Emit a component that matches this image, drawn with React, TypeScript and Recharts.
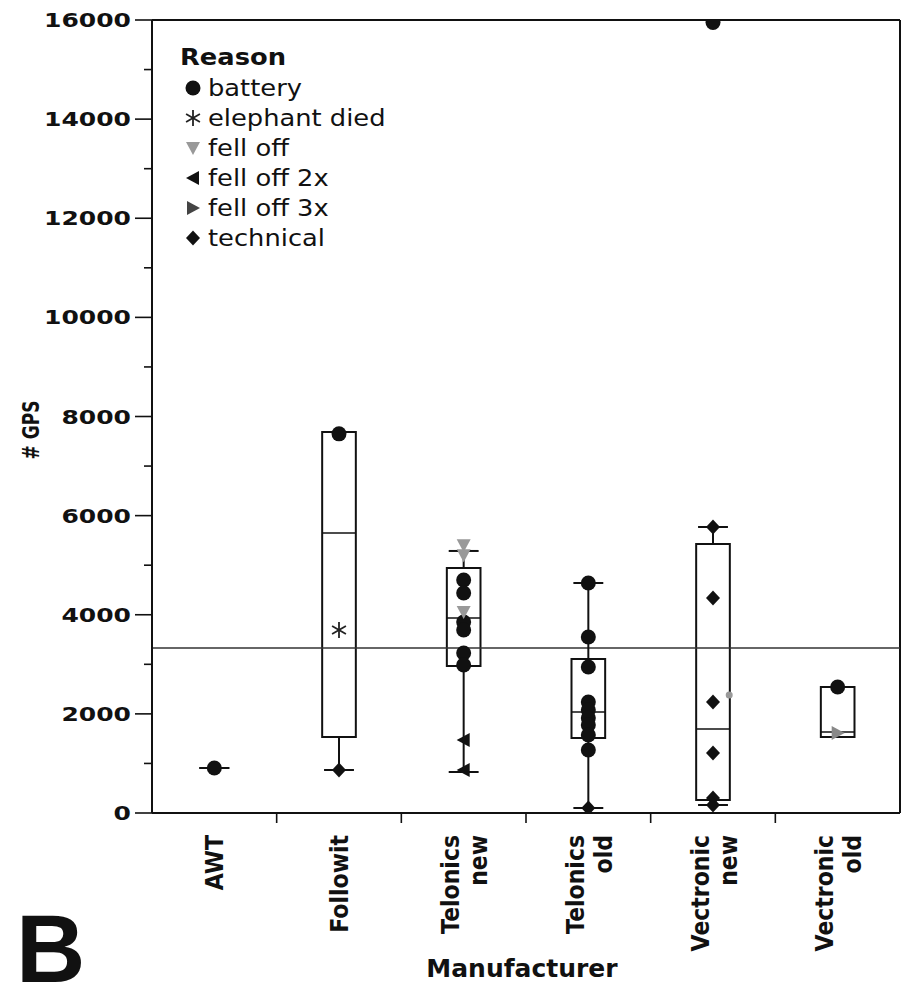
import React from 'react'
import { ComposedChart, XAxis, YAxis, Scatter, ReferenceArea, ReferenceLine } from 'recharts'

// categories (x positions 0..5)
const categories = ['AWT', 'Followit', 'Telonics new', 'Telonics old', 'Vectronic new', 'Vectronic old']

// box plot summaries per category (null = not drawn)
const boxQ1 = [null, 1533, 2966, 1513, 262, 1533]
const boxMedian = [null, 5650, 3935, 2038, 1695, 1634]
const boxQ3 = [null, 7688, 4943, 3107, 5428, 2542]
const whiskerLow = [908, 868, 827, 101, 161, null]
const whiskerHigh = [908, 7688, 5287, 4641, 5771, null]
const grandMean = 3329

// points per reason: [category index, # GPS]
const battery: [number, number][] = [
  [0, 908], [1, 7650],
  [2, 4701], [2, 4439], [2, 3854], [2, 3693], [2, 3228], [2, 2986],
  [3, 4641], [3, 3551], [3, 2946], [3, 2240], [3, 2078], [3, 1917], [3, 1776], [3, 1574], [3, 1271],
  [4, 15950], [5, 2542],
]
const elephantDied: [number, number][] = [[1, 3692]]
const fellOff: [number, number][] = [[2, 5400], [2, 5200], [2, 4056]]
const fellOff2x: [number, number][] = [[2, 1473], [2, 868]]
const fellOff3x: [number, number][] = [[5, 1614]]
const technical: [number, number][] = [[1, 868], [3, 101], [4, 5771], [4, 4338], [4, 2240], [4, 1211], [4, 303], [4, 161]]
const other: [number, number][] = [[4.13, 2381]]

const yTicks = [0, 1000, 2000, 3000, 4000, 5000, 6000, 7000, 8000, 9000, 10000, 11000, 12000, 13000, 14000, 15000, 16000]
const xTicks = [0, 0.5, 1, 1.5, 2, 2.5, 3, 3.5, 4, 4.5, 5]

const toPoints = (arr: [number, number][]) => arr.map(([x, y]) => ({ x, y }))

const INK = '#111'
const FONT = 'DejaVu Sans, Verdana, sans-serif'
const BOX_HALF = 0.135
const CAP_HALF = 0.12

function BatteryShape({ cx, cy }: any) {
  return <circle cx={cx} cy={cy} r={7.5} fill={INK} />
}
function AsteriskShape({ cx, cy }: any) {
  const r = 8
  const dx = r * Math.cos(Math.PI / 6)
  const dy = r * Math.sin(Math.PI / 6)
  return (
    <g stroke="#222" strokeWidth={1.8}>
      <line x1={cx} y1={cy - r} x2={cx} y2={cy + r} />
      <line x1={cx - dx} y1={cy - dy} x2={cx + dx} y2={cy + dy} />
      <line x1={cx - dx} y1={cy + dy} x2={cx + dx} y2={cy - dy} />
    </g>
  )
}
function DownTriShape({ cx, cy }: any) {
  return <path d={`M${cx - 7},${cy - 6} L${cx + 7},${cy - 6} L${cx},${cy + 7} Z`} fill="#999" />
}
function LeftTriShape({ cx, cy }: any) {
  return <path d={`M${cx + 6},${cy - 7} L${cx + 6},${cy + 7} L${cx - 7},${cy} Z`} fill={INK} />
}
function RightTriShape({ cx, cy, color }: any) {
  return <path d={`M${cx - 6},${cy - 7} L${cx - 6},${cy + 7} L${cx + 7},${cy} Z`} fill={color ?? '#777'} />
}
function DiamondShape({ cx, cy }: any) {
  return <path d={`M${cx},${cy - 7.5} L${cx + 7},${cy} L${cx},${cy + 7.5} L${cx - 7},${cy} Z`} fill={INK} />
}
function SmallDotShape({ cx, cy }: any) {
  return <circle cx={cx} cy={cy} r={3.5} fill="#999" />
}

function YTick({ x, y, payload }: any) {
  const v = payload.value
  const major = v % 2000 === 0
  return (
    <g>
      <line x1={x - (major ? 17 : 8)} x2={x} y1={y} y2={y} stroke={INK} strokeWidth={1.6} />
      {major && (
        <text
          transform={`translate(${x - 21},${y}) scale(1.25,1)`}
          textAnchor="end"
          dominantBaseline="central"
          fontFamily={FONT}
          fontWeight="bold"
          fontSize={20}
          fill={INK}
        >
          {v}
        </text>
      )}
    </g>
  )
}

function XTick({ x, y, payload }: any) {
  const v = payload.value
  if (!Number.isInteger(v)) {
    return <line x1={x} x2={x} y1={y} y2={y + 10} stroke={INK} strokeWidth={1.6} />
  }
  const lines = categories[v].split(' ')
  const offs = lines.length === 1 ? [0] : [-13, 15]
  const sx = 1.15
  return (
    <g transform={`translate(${x},${y + 22}) scale(${sx},1) rotate(-90)`}>
      {lines.map((l, i) => (
        <text
          key={l}
          x={0}
          y={offs[i] / sx}
          textAnchor="end"
          dominantBaseline="central"
          fontFamily={FONT}
          fontWeight="bold"
          fontSize={22}
          fill={INK}
        >
          {l}
        </text>
      ))}
    </g>
  )
}

const legendItems = [
  { label: 'battery', Shape: BatteryShape },
  { label: 'elephant died', Shape: AsteriskShape },
  { label: 'fell off', Shape: DownTriShape },
  { label: 'fell off 2x', Shape: LeftTriShape },
  { label: 'fell off 3x', Shape: (p: any) => <RightTriShape {...p} color="#444" /> },
  { label: 'technical', Shape: DiamondShape },
]

export default function App() {
  return (
    <div style={{ position: 'absolute', left: 0, top: 0, width: 908, height: 991, background: '#fff' }}>
      <ComposedChart width={908} height={991} margin={{ top: 20, right: 8, bottom: 0, left: 0 }}>
        <XAxis
          type="number"
          dataKey="x"
          domain={[-0.5, 5.5]}
          ticks={xTicks}
          interval={0}
          tick={<XTick />}
          tickLine={false}
          tickSize={0}
          tickMargin={0}
          height={178}
          axisLine={{ stroke: INK, strokeWidth: 2 }}
          allowDataOverflow
        />
        <YAxis
          type="number"
          dataKey="y"
          domain={[0, 16000]}
          ticks={yTicks}
          interval={0}
          tick={<YTick />}
          tickLine={false}
          tickSize={0}
          tickMargin={0}
          width={152}
          axisLine={{ stroke: INK, strokeWidth: 2 }}
          allowDataOverflow
        />

        {/* frame */}
        <ReferenceLine y={16000} stroke={INK} strokeWidth={2} />
        <ReferenceLine x={5.5} stroke={INK} strokeWidth={2} />

        {/* grand mean */}
        <ReferenceLine y={grandMean} stroke="#333" strokeWidth={1.3} />

        {/* boxes */}
        {categories.map((_, i) =>
          boxQ1[i] != null ? (
            <ReferenceArea
              key={`box-${i}`}
              x1={i - BOX_HALF}
              x2={i + BOX_HALF}
              y1={boxQ1[i] as number}
              y2={boxQ3[i] as number}
              fill="none"
              fillOpacity={0}
              stroke={INK}
              strokeWidth={2}
              strokeOpacity={1}
            />
          ) : null
        )}
        {categories.map((_, i) =>
          boxMedian[i] != null ? (
            <ReferenceLine
              key={`med-${i}`}
              segment={[{ x: i - BOX_HALF, y: boxMedian[i] as number }, { x: i + BOX_HALF, y: boxMedian[i] as number }]}
              stroke={INK}
              strokeWidth={1.6}
            />
          ) : null
        )}

        {/* whiskers */}
        {categories.map((_, i) => {
          const lo = whiskerLow[i]
          const hi = whiskerHigh[i]
          const out: React.ReactNode[] = []
          if (lo != null) {
            const from = boxQ1[i] ?? lo
            out.push(<ReferenceLine key={`wl-${i}`} segment={[{ x: i, y: from }, { x: i, y: lo }]} stroke={INK} strokeWidth={2} />)
            out.push(<ReferenceLine key={`cl-${i}`} segment={[{ x: i - CAP_HALF, y: lo }, { x: i + CAP_HALF, y: lo }]} stroke={INK} strokeWidth={2} />)
          }
          if (hi != null && (boxQ3[i] == null || hi > (boxQ3[i] as number))) {
            const from = boxQ3[i] ?? hi
            out.push(<ReferenceLine key={`wh-${i}`} segment={[{ x: i, y: from }, { x: i, y: hi }]} stroke={INK} strokeWidth={2} />)
            out.push(<ReferenceLine key={`ch-${i}`} segment={[{ x: i - CAP_HALF, y: hi }, { x: i + CAP_HALF, y: hi }]} stroke={INK} strokeWidth={2} />)
          }
          return out
        })}

        <Scatter name="battery" data={toPoints(battery)} shape={<BatteryShape />} isAnimationActive={false} />
        <Scatter name="elephant died" data={toPoints(elephantDied)} shape={<AsteriskShape />} isAnimationActive={false} />
        <Scatter name="fell off" data={toPoints(fellOff)} shape={<DownTriShape />} isAnimationActive={false} />
        <Scatter name="fell off 2x" data={toPoints(fellOff2x)} shape={<LeftTriShape />} isAnimationActive={false} />
        <Scatter name="fell off 3x" data={toPoints(fellOff3x)} shape={<RightTriShape color="#888" />} isAnimationActive={false} />
        <Scatter name="technical" data={toPoints(technical)} shape={<DiamondShape />} isAnimationActive={false} />
        <Scatter name="other" data={toPoints(other)} shape={<SmallDotShape />} isAnimationActive={false} />
      </ComposedChart>

      {/* legend and labels */}
      <svg width={908} height={991} style={{ position: 'absolute', left: 0, top: 0, pointerEvents: 'none' }}>
        <text
          transform="translate(180,57) scale(1.12,1)"
          dominantBaseline="central"
          fontFamily={FONT}
          fontWeight="bold"
          fontSize={23}
          fill={INK}
        >
          Reason
        </text>
        {legendItems.map(({ label, Shape }, i) => {
          const cy = 88 + i * 30
          return (
            <g key={label}>
              <Shape cx={193} cy={cy} />
              <text
                transform={`translate(208,${cy}) scale(1.12,1)`}
                dominantBaseline="central"
                fontFamily={FONT}
                fontSize={23}
                fill={INK}
              >
                {label}
              </text>
            </g>
          )
        })}

        <text
          transform="translate(31,430) scale(1.4,1) rotate(-90)"
          textAnchor="middle"
          dominantBaseline="central"
          fontFamily={FONT}
          fontWeight="bold"
          fontSize={17}
          fill={INK}
        >
          # GPS
        </text>

        <text
          x={522}
          y={968}
          textAnchor="middle"
          dominantBaseline="central"
          fontFamily={FONT}
          fontWeight="bold"
          fontSize={25}
          fill={INK}
        >
          Manufacturer
        </text>

        <text x={16} y={982} fontFamily="Liberation Sans, Arial, sans-serif" fontWeight="bold" fontSize={96} fill={INK}>
          B
        </text>
      </svg>
    </div>
  )
}
